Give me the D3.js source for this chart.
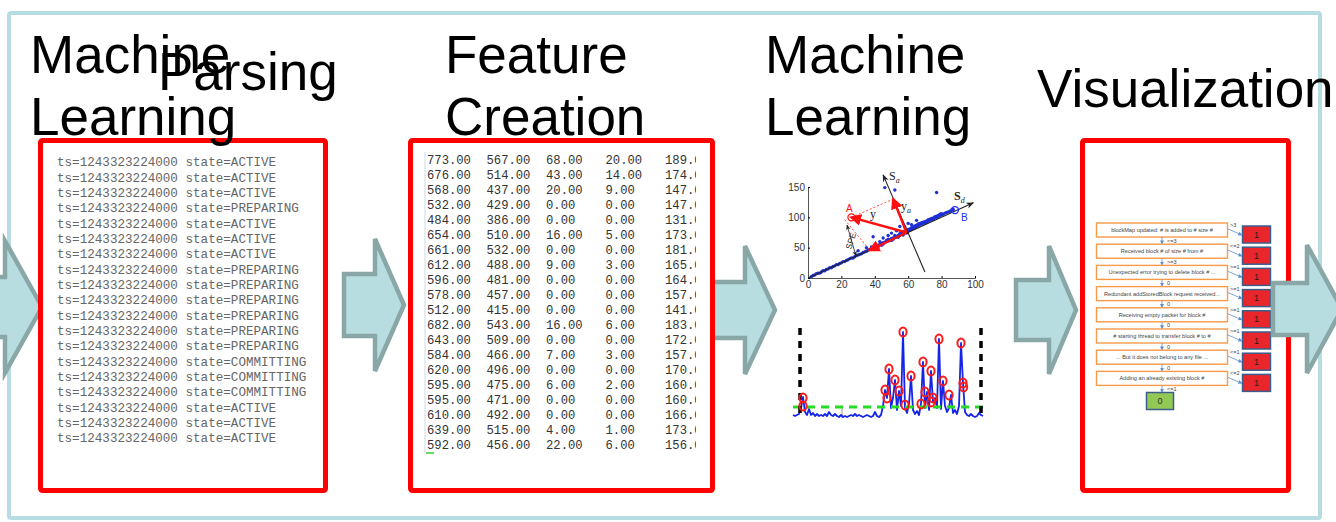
<!DOCTYPE html>
<html>
<head>
<meta charset="utf-8">
<script src="https://cdn.jsdelivr.net/npm/d3@7"></script>
<style>
  body { margin: 0; background: #fff; }
  svg { display: block; font-family: "Liberation Sans", Arial, sans-serif; }
</style>
</head>
<body>
<svg id="chart" width="1336" height="522"></svg>
<script>
'use strict';

// stage titles
var titles = [
  {lines: ['Machine', 'Learning'], x: 30, y: 73},
  {lines: ['Parsing'], x: 158, y: 90},
  {lines: ['Feature', 'Creation'], x: 445, y: 73},
  {lines: ['Machine', 'Learning'], x: 765, y: 73},
  {lines: ['Visualization'], x: 1037, y: 107}
];

// parsing panel: raw log lines
var logTs = '1243323224000';
var logStates = ['ACTIVE', 'ACTIVE', 'ACTIVE', 'PREPARING', 'ACTIVE', 'ACTIVE', 'ACTIVE',
  'PREPARING', 'PREPARING', 'PREPARING', 'PREPARING', 'PREPARING', 'PREPARING',
  'COMMITTING', 'COMMITTING', 'COMMITTING', 'ACTIVE', 'ACTIVE', 'ACTIVE'];

// feature creation panel: feature matrix columns
var col1 = [773, 676, 568, 532, 484, 654, 661, 612, 596, 578, 512, 682, 643, 584, 620, 595, 595, 610, 639, 592];
var col2 = [567, 514, 437, 429, 386, 510, 532, 488, 481, 457, 415, 543, 509, 466, 496, 475, 471, 492, 515, 456];
var col3 = [68, 43, 20, 0, 0, 16, 0, 9, 0, 0, 0, 16, 0, 7, 0, 6, 0, 0, 4, 22];
var col4 = [20, 14, 9, 0, 0, 5, 0, 3, 0, 0, 0, 6, 0, 3, 0, 2, 0, 0, 1, 6];
var col5 = [189, 174, 147, 147, 131, 173, 181, 165, 164, 157, 141, 183, 172, 157, 170, 160, 160, 166, 173, 156];

// PCA scatter (x, y)
var pcaPoints = [[2,2],[3,4],[4,5],[5,7],[6,8],[7,8],[8,10],[9,12],[10,12],[11,14],[12,15],[13,17],
  [14,17],[15,19],[16,20],[17,22],[18,22],[19,24],[20,25],[21,27],[22,27],[23,29],[24,30],[25,32],
  [26,33],[27,33],[28,35],[29,37],[30,38],[31,39],[32,40],[33,42],[34,43],[35,44],[36,46],[37,47],
  [38,48],[38,51],[39,50],[40,52],[40,49],[41,53],[42,54],[42,51],[43,55],[44,57],[44,54],[45,58],
  [45,56],[46,59],[47,60],[47,62],[48,61],[48,64],[49,63],[50,65],[50,62],[51,66],[51,64],[52,67],
  [52,70],[53,68],[54,70],[54,67],[55,71],[55,73],[56,72],[56,75],[57,74],[57,71],[58,76],[58,78],
  [59,77],[59,74],[60,78],[60,80],[61,79],[61,81],[62,80],[62,83],[63,82],[63,84],[64,83],[64,86],
  [65,85],[65,87],[66,86],[66,89],[67,88],[67,90],[68,89],[68,91],[69,90],[69,92],[70,91],[70,93],
  [71,92],[71,94],[72,94],[72,96],[73,95],[73,97],[74,96],[74,98],[75,97],[75,99],[76,99],[76,101],
  [77,100],[77,102],[78,101],[78,103],[79,103],[79,105],[80,104],[80,106],[81,105],[82,107],[83,108],
  [84,109],[85,110],[86,112],[87,113],[46,149],[52,145],[77,141],[39,68],[45,66],[35,50],[65,95],
  [50,74],[30,45],[55,85],[60,90],[48,70],[53,78],[58,84],[62,88],[43,60]];
var pcaXTicks = [0, 20, 40, 60, 80, 100];
var pcaYTicks = [0, 50, 100, 150];
var pointA = [26, 100], pointB = [88, 112];
var origin = [59, 75], yaTip = [51, 130], speFoot = [37, 46];
var axisSd = [[0, 0], [99, 124]], axisSa = [[70, 10], [45, 170]];

// anomaly score signal
var signal = [3, 2, 3, 4, 10, 21, 6, 3, 9, 3, 5, 2, 4, 2, 3, 2, 4, 2, 6, 3, 2, 4, 2, 1, 3, 1, 2, 1, 2, 3,
  2, 4, 2, 3, 2, 1, 2, 3, 2, 1, 2, 6, 2, 1, 3, 12, 28, 20, 49, 10, 20, 38, 8, 27, 12, 86, 10, 5, 14, 42,
  8, 4, 7, 3, 14, 56, 10, 26, 8, 47, 16, 20, 10, 79, 9, 37, 12, 6, 10, 23, 5, 8, 4, 12, 75, 35, 6, 3, 2,
  4, 2, 1, 2, 5, 3, 2];
var threshold = 11;
var flagged = [[5,20],[5,12],[46,28],[47,20],[48,49],[51,38],[53,27],[55,86],[56,13],[59,42],[64,14],
  [65,56],[66,26],[69,47],[69,16],[70,20],[73,79],[75,37],[78,23],[84,75],[85,35],[85.3,31]];

// decision tree visualization
var messages = ['blockMap updated: # is added to # size #', 'Received block # of size # from #',
  'Unexpected error trying to delete block # ...', 'Redundant addStoredBlock request received...',
  'Receiving empty packet for block #', '# starting thread to transfer block # to #',
  '... But it does not belong to any file ...', 'Adding an already existing block #'];
var sideLabels = ['>3', '<=2', '>=1', '>=1', '>=1', '>=1', '<=1', '<=2'];
var downLabels = ['<=3', '>=3', '0', '0', '0', '0', '0', '<=1'];
var leafValues = ['1', '1', '1', '1', '1', '1', '1', '1'];
var finalValue = '0';

var svg = d3.select('#chart');

// outer frame
svg.append('rect')
  .attr('x', 9).attr('y', 13).attr('width', 1311).attr('height', 505)
  .attr('fill', 'none').attr('stroke', '#b7dde2').attr('stroke-width', 4).attr('rx', 2);

// block arrow shape
function arrowPath(a) {
  return 'M' + a.l + ',' + (a.cy - a.sh) + 'H' + a.hb + 'V' + (a.cy - a.hh) +
    'L' + a.tip + ',' + a.cy + 'L' + a.hb + ',' + (a.cy + a.hh) + 'V' + (a.cy + a.sh) +
    'H' + a.l + 'Z';
}
var arrowsBelow = [
  {l: -30, hb: 5, tip: 42, cy: 307, sh: 30, hh: 66},
  {l: 344, hb: 375, tip: 404, cy: 305, sh: 31, hh: 66},
  {l: 712, hb: 745, tip: 775, cy: 310, sh: 28, hh: 64},
  {l: 1016, hb: 1049, tip: 1076, cy: 310, sh: 30, hh: 64}
];
var arrowsAbove = [{l: 1273, hb: 1307, tip: 1342, cy: 309, sh: 26, hh: 64}];

function drawArrows(list) {
  svg.append('g').selectAll('path').data(list).enter().append('path')
    .attr('d', arrowPath)
    .attr('fill', '#b8dde1').attr('stroke', '#8aa7a7').attr('stroke-width', 4.5)
    .attr('stroke-linejoin', 'miter');
}
drawArrows(arrowsBelow);

// red panels
var panels = [
  {x: 40.5, y: 140.5, w: 285, h: 350},
  {x: 410.5, y: 140.5, w: 302, h: 350},
  {x: 1082.5, y: 140.5, w: 206, h: 350}
];
svg.append('g').selectAll('rect').data(panels).enter().append('rect')
  .attr('x', function(d) { return d.x; }).attr('y', function(d) { return d.y; })
  .attr('width', function(d) { return d.w; }).attr('height', function(d) { return d.h; })
  .attr('rx', 2).attr('fill', '#fff').attr('stroke', '#ff0000').attr('stroke-width', 5);

// parsing panel text
var yLog = d3.scaleLinear().domain([0, logStates.length - 1]).range([162, 438]);
svg.append('g').selectAll('text').data(logStates).enter().append('text')
  .attr('x', 57).attr('y', function(d, i) { return yLog(i); })
  .attr('dy', '0.35em')
  .attr('font-family', '"Liberation Mono", "Courier New", monospace')
  .attr('font-size', 12.6).attr('fill', '#666')
  .attr('xml:space', 'preserve')
  .text(function(d) { return 'ts=' + logTs + ' state=' + d; });

// feature panel
var defs = svg.append('defs');
defs.append('clipPath').attr('id', 'featClip').append('rect')
  .attr('x', 414).attr('y', 145).attr('width', 282).attr('height', 340);

var featCols = [col1, col2, col3, col4, col5];
var xFeat = d3.scalePoint().domain(d3.range(featCols.length)).range([427, 665]);
var yFeat = d3.scaleLinear().domain([0, col1.length - 1]).range([160, 445]);
var fg = svg.append('g').attr('clip-path', 'url(#featClip)');
fg.append('line').attr('x1', 425).attr('x2', 425).attr('y1', 152).attr('y2', 452)
  .attr('stroke', '#c8d8ec').attr('stroke-width', 1);
featCols.forEach(function(col, c) {
  fg.append('g').selectAll('text').data(col).enter().append('text')
    .attr('x', xFeat(c)).attr('y', function(d, i) { return yFeat(i); })
    .attr('dy', '0.35em')
    .attr('font-family', '"Liberation Mono", "Courier New", monospace')
    .attr('font-size', 12.2).attr('fill', '#333')
    .text(function(d) { return d.toFixed(2); });
});
fg.append('line').attr('x1', 426).attr('x2', 434).attr('y1', 453).attr('y2', 453)
  .attr('stroke', '#2fd02f').attr('stroke-width', 1.5);

// PCA scatter plot
var xP = d3.scaleLinear().domain([0, 100]).range([808, 975]);
var yP = d3.scaleLinear().domain([0, 150]).range([278, 187]);

defs.append('marker').attr('id', 'redHead').attr('viewBox', '0 0 10 10')
  .attr('refX', 8).attr('refY', 5).attr('markerWidth', 5).attr('markerHeight', 5)
  .attr('orient', 'auto').append('path').attr('d', 'M0,0L10,5L0,10Z').attr('fill', '#ff1010');
defs.append('marker').attr('id', 'blackHead').attr('viewBox', '0 0 10 10')
  .attr('refX', 9).attr('refY', 5).attr('markerWidth', 7).attr('markerHeight', 7)
  .attr('orient', 'auto-start-reverse').append('path').attr('d', 'M0,1L10,5L0,9L3,5Z').attr('fill', '#222');

var pg = svg.append('g');
pg.append('g').attr('transform', 'translate(0,' + yP(0) + ')')
  .call(d3.axisBottom(xP).tickValues(pcaXTicks).tickSize(-2).tickPadding(3));
pg.append('g').attr('transform', 'translate(' + xP(0) + ',0)')
  .call(d3.axisLeft(yP).tickValues(pcaYTicks).tickSize(-2).tickPadding(3));
pg.selectAll('.tick text').attr('font-size', 10).attr('fill', '#333')
  .attr('font-family', '"Liberation Sans", Arial, sans-serif');
pg.selectAll('.domain').attr('stroke', '#555');

pg.append('g').selectAll('circle').data(pcaPoints).enter().append('circle')
  .attr('cx', function(d) { return xP(d[0]); }).attr('cy', function(d) { return yP(d[1]); })
  .attr('r', 1.7).attr('fill', '#1f2fd8');

var line2 = function(p, q) {
  return pg.append('line').attr('x1', xP(p[0])).attr('y1', yP(p[1]))
    .attr('x2', xP(q[0])).attr('y2', yP(q[1]));
};
line2(axisSd[0], axisSd[1]).attr('stroke', '#222').attr('stroke-width', 1.1).attr('marker-end', 'url(#blackHead)');
line2(axisSa[0], axisSa[1]).attr('stroke', '#222').attr('stroke-width', 1.1).attr('marker-end', 'url(#blackHead)');
line2(pointA, yaTip).attr('stroke', '#ff3030').attr('stroke-width', 0.9).attr('stroke-dasharray', '2,2');
line2([pointA[0] - 4, pointA[1] - 4], speFoot).attr('stroke', '#ff3030').attr('stroke-width', 0.9).attr('stroke-dasharray', '2,2');
[pointA, yaTip, speFoot].forEach(function(t) {
  line2(origin, t).attr('stroke', '#ff1010').attr('stroke-width', 2.4).attr('marker-end', 'url(#redHead)');
});
pg.append('circle').attr('cx', xP(pointA[0])).attr('cy', yP(pointA[1])).attr('r', 3.5)
  .attr('fill', 'none').attr('stroke', '#ff1010').attr('stroke-width', 1.3);
pg.append('circle').attr('cx', xP(pointB[0])).attr('cy', yP(pointB[1])).attr('r', 3.5)
  .attr('fill', 'none').attr('stroke', '#2030ff').attr('stroke-width', 1.3);
// SPE marker
pg.append('line').attr('x1', 847).attr('y1', 225).attr('x2', 856).attr('y2', 256)
  .attr('stroke', '#222').attr('stroke-width', 0.8)
  .attr('marker-start', 'url(#blackHead)').attr('marker-end', 'url(#blackHead)');

var pcaLabels = [
  {t: 'A', x: 846, y: 212, c: '#ff1010', f: 'sans'},
  {t: 'B', x: 961, y: 221, c: '#2030ff', f: 'sans'},
  {t: 'y', x: 870, y: 218, c: '#222', f: 'serif'},
  {t: 'S', sub: 'a', x: 889, y: 180, c: '#222', f: 'serif'},
  {t: 'S', sub: 'd', x: 954, y: 200, c: '#222', f: 'serif', bold: true},
  {t: 'y', sub: 'a', x: 901, y: 210, c: '#222', f: 'serif'}
];
var lt = pg.append('g').selectAll('text').data(pcaLabels).enter().append('text')
  .attr('x', function(d) { return d.x; }).attr('y', function(d) { return d.y; })
  .attr('fill', function(d) { return d.c; })
  .attr('font-size', function(d) { return d.f === 'serif' ? 12 : 10; })
  .attr('font-weight', function(d) { return d.bold ? 'bold' : 'normal'; })
  .attr('font-family', function(d) { return d.f === 'serif' ? '"Liberation Serif", serif' : '"Liberation Sans", Arial, sans-serif'; });
lt.append('tspan').text(function(d) { return d.t; });
lt.filter(function(d) { return d.sub; }).append('tspan')
  .attr('dy', 3).attr('font-size', 8).attr('font-style', 'italic').attr('font-weight', 'normal')
  .text(function(d) { return d.sub; });
pg.append('text').attr('transform', 'translate(851,250) rotate(-72)')
  .attr('font-size', 8.5).attr('fill', '#222').text('SPE');

// anomaly signal plot
var xS = d3.scaleLinear().domain([0, signal.length - 1]).range([793, 983]);
var yS = d3.scaleLinear().domain([0, 100]).range([418, 318]);
var sg = svg.append('g');
sg.append('line').attr('x1', 842).attr('x2', 842).attr('y1', yS(10)).attr('y2', yS(0))
  .attr('stroke', '#999').attr('stroke-width', 1);
sg.append('path').datum(signal)
  .attr('d', d3.line().x(function(d, i) { return xS(i); }).y(function(d) { return yS(d); }))
  .attr('fill', 'none').attr('stroke', '#1424e8').attr('stroke-width', 1.8)
  .attr('stroke-linejoin', 'round');
sg.append('line').attr('x1', xS(0)).attr('x2', xS(signal.length - 1))
  .attr('y1', yS(threshold)).attr('y2', yS(threshold))
  .attr('stroke', '#22dd22').attr('stroke-width', 3).attr('stroke-dasharray', '8,6');
sg.append('g').selectAll('line').data([3.5, 94]).enter().append('line')
  .attr('x1', function(d) { return xS(d); }).attr('x2', function(d) { return xS(d); })
  .attr('y1', yS(90)).attr('y2', yS(0))
  .attr('stroke', '#000').attr('stroke-width', 3.5).attr('stroke-dasharray', '7,6');
sg.append('g').selectAll('ellipse').data(flagged).enter().append('ellipse')
  .attr('cx', function(d) { return xS(d[0]); }).attr('cy', function(d) { return yS(d[1]); })
  .attr('rx', 3.6).attr('ry', 4.6)
  .attr('fill', 'none').attr('stroke', '#ff1a1a').attr('stroke-width', 2);

// decision tree
var yTree = d3.scaleLinear().domain([0, messages.length - 1]).range([223, 371.4]);
var tg = svg.append('g');
defs.append('marker').attr('id', 'blueHead').attr('viewBox', '0 0 10 10')
  .attr('refX', 9).attr('refY', 5).attr('markerWidth', 5).attr('markerHeight', 5)
  .attr('orient', 'auto').append('path').attr('d', 'M0,0L10,5L0,10Z').attr('fill', '#5b8fd0');

messages.forEach(function(m, i) {
  var y0 = yTree(i);
  tg.append('rect').attr('x', 1096.5).attr('y', y0).attr('width', 131).attr('height', 14)
    .attr('fill', '#fff').attr('stroke', '#f79a4a').attr('stroke-width', 1.4);
  tg.append('text').attr('x', 1162).attr('y', y0 + 7).attr('dy', '0.35em')
    .attr('text-anchor', 'middle').attr('font-size', 5.6).attr('fill', '#444').text(m);
  // leaf
  tg.append('rect').attr('x', 1242.5).attr('y', y0 + 3).attr('width', 28).attr('height', 17)
    .attr('fill', '#e8262b').attr('stroke', '#3d5d8c').attr('stroke-width', 1.5);
  tg.append('text').attr('x', 1256.5).attr('y', y0 + 11.5).attr('dy', '0.35em')
    .attr('text-anchor', 'middle').attr('font-size', 9).attr('fill', '#222').text(leafValues[i]);
  tg.append('line').attr('x1', 1228).attr('y1', y0 + 6).attr('x2', 1242).attr('y2', y0 + 12)
    .attr('stroke', '#5b8fd0').attr('stroke-width', 0.8).attr('marker-end', 'url(#blueHead)');
  tg.append('text').attr('x', 1230).attr('y', y0 + 4).attr('font-size', 5.5).attr('fill', '#444')
    .text(sideLabels[i]);
  // down connector
  tg.append('line').attr('x1', 1162).attr('y1', y0 + 14).attr('x2', 1162).attr('y2', y0 + 21)
    .attr('stroke', '#5b8fd0').attr('stroke-width', 0.8).attr('marker-end', 'url(#blueHead)');
  tg.append('text').attr('x', 1167).attr('y', y0 + 19.5).attr('font-size', 5.5).attr('fill', '#444')
    .text(downLabels[i]);
});
tg.append('rect').attr('x', 1146.5).attr('y', 392.5).attr('width', 27).attr('height', 17)
  .attr('fill', '#92c955').attr('stroke', '#3d5d8c').attr('stroke-width', 1.5);
tg.append('text').attr('x', 1160).attr('y', 401).attr('dy', '0.35em')
  .attr('text-anchor', 'middle').attr('font-size', 9).attr('fill', '#333').text(finalValue);

// last arrow sits over the visualization panel
drawArrows(arrowsAbove);

// titles on top
var tt = svg.append('g').selectAll('text').data(titles).enter().append('text')
  .attr('x', function(d) { return d.x; }).attr('y', function(d) { return d.y; })
  .attr('font-size', 53).attr('fill', '#000');
tt.selectAll('tspan').data(function(d) { return d.lines.map(function(l) { return {l: l, x: d.x}; }); })
  .enter().append('tspan')
  .attr('x', function(d) { return d.x; })
  .attr('dy', function(d, i) { return i === 0 ? 0 : 62; })
  .text(function(d) { return d.l; });
</script>
</body>
</html>
